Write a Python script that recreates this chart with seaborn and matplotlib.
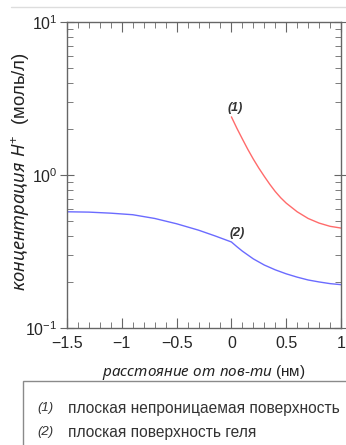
import matplotlib
matplotlib.use("Agg")
import matplotlib.pyplot as plt
import matplotlib.ticker as mticker
from matplotlib.patches import Rectangle
from matplotlib.lines import Line2D
import seaborn as sns
import pandas as pd

# кривая (1): плоская непроницаемая поверхность
x1 = [0, 0.05, 0.1, 0.15, 0.2, 0.25, 0.3, 0.35, 0.4, 0.45, 0.5, 0.6, 0.7, 0.8, 0.9, 1.0]
y1 = [2.40, 2.02, 1.72, 1.47, 1.27, 1.11, 0.98, 0.87, 0.78, 0.71, 0.655, 0.575, 0.52, 0.485, 0.462, 0.45]
# кривая (2): плоская поверхность геля
x2 = [-1.5, -1.3, -1.1, -0.9, -0.7, -0.5, -0.3, -0.15, 0, 0.05, 0.1, 0.2, 0.3, 0.4, 0.5,
      0.6, 0.7, 0.8, 0.9, 1.0]
y2 = [0.575, 0.572, 0.563, 0.55, 0.52, 0.48, 0.436, 0.40, 0.365, 0.34, 0.318, 0.283, 0.258,
      0.24, 0.226, 0.215, 0.206, 0.2, 0.195, 0.192]

legend_keys = ["(1)", "(2)"]
legend_texts = ["плоская непроницаемая поверхность", "плоская поверхность геля"]

sns.set_style("white")
plt.rcParams["font.family"] = ["Liberation Sans", "DejaVu Sans"]
plt.rcParams["mathtext.fontset"] = "custom"
plt.rcParams["mathtext.rm"] = "Liberation Sans"
plt.rcParams["mathtext.it"] = "Noto Sans:italic"

W, H = 346, 445
fig = plt.figure(figsize=(W / 100, H / 100), dpi=100)
ax = fig.add_axes([67 / W, 1 - 328 / H, (341 - 67) / W, (328 - 22) / H])

d1 = pd.DataFrame({"x": x1, "y": y1})
d2 = pd.DataFrame({"x": x2, "y": y2})
sns.lineplot(data=d1, x="x", y="y", ax=ax, color="#ff6b6b", lw=1)
sns.lineplot(data=d2, x="x", y="y", ax=ax, color="#6b6bff", lw=1)

ax.set_yscale("log")
ax.set_xlim(-1.5, 1)
ax.set_ylim(0.1, 10)
ax.xaxis.set_major_locator(mticker.MultipleLocator(0.5))
ax.xaxis.set_minor_locator(mticker.MultipleLocator(0.1))
ax.xaxis.set_major_formatter(mticker.FuncFormatter(lambda v, p: f"{v:g}".replace("-", "\u2212")))
ax.yaxis.set_minor_formatter(mticker.NullFormatter())

gray = "#666666"
for s in ax.spines.values():
    s.set_color(gray)
    s.set_linewidth(1)
ax.tick_params(axis="x", which="major", direction="in", length=7, top=True, bottom=True,
               color=gray, labelsize=11.5, pad=6)
ax.tick_params(axis="x", which="minor", direction="in", length=4, top=True, bottom=True, color=gray)
ax.tick_params(axis="y", which="major", direction="inout", length=10, left=True, right=True,
               color=gray, labelsize=11.5, pad=2)
ax.tick_params(axis="y", which="minor", direction="in", length=4, left=True, right=True, color=gray)

ax.set_xlabel("")
ax.set_ylabel("")
fig.text(204 / W, 1 - 373 / H, r"$\mathit{расстояние\ от\ пов}$-$\mathit{ти}$ (нм)",
         ha="center", va="center", fontsize=11, color="#222222")
fig.text(21 / W, 1 - 172 / H, r"$\mathit{концентрация\ H^{+}}$  (моль/л)",
         ha="center", va="center", rotation=90, fontsize=13.3, color="#222222")

ax.text(0.03, 2.75, "(1)", ha="center", va="center", fontsize=9, fontweight="bold",
        style="italic", color="#333333")
ax.text(0.05, 0.42, "(2)", ha="center", va="center", fontsize=9, fontweight="bold",
        style="italic", color="#333333")

# рамка легенды и линия сверху
fig.add_artist(Rectangle((23 / W, -0.05), 1.1, 0.05 + (445 - 381) / H, transform=fig.transFigure,
                         fill=False, edgecolor="#8a8a8a", lw=1, clip_on=False))
fig.add_artist(Line2D([11 / W, 1], [1 - 7 / H, 1 - 7 / H], transform=fig.transFigure,
                      color="#dddddd", lw=1))
for i, (k, t) in enumerate(zip(legend_keys, legend_texts)):
    yy = 1 - (408 + 24 * i) / H
    fig.text(37 / W, yy, k, ha="left", va="center", fontsize=9.5, style="italic", color="#333333")
    fig.text(68 / W, yy, t, ha="left", va="center", fontsize=11.2, color="#333333")

fig.savefig("out.png", dpi=100)
